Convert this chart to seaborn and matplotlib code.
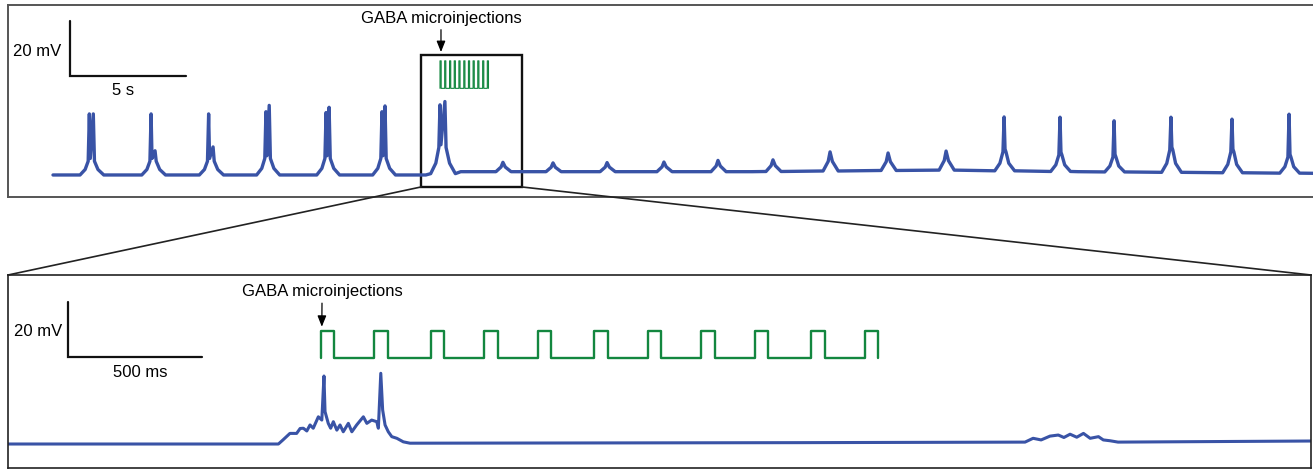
import numpy as np
import pandas as pd
import matplotlib
matplotlib.use("Agg")
import matplotlib.pyplot as plt
from matplotlib.patches import Rectangle, ConnectionPatch
import seaborn as sns

# ---- overview trace (time in s, potential in mV above rest) ----
# bursts with one or two spikes
spike_t = [1.56, 4.21, 6.68, 9.14, 11.72, 14.12, 16.61,
           40.82, 43.22, 45.54, 47.98, 50.60, 53.05]
spike_mV = [22.2, 22.2, 22.2, 23.0, 22.7, 23.0, 25.5,
            21.1, 21.0, 19.7, 21.0, 20.3, 22.1]
second_t = [1.73, 4.38, 6.87, 9.28, 11.85, 14.25, 16.82,
            None, None, None, None, None, None]
second_mV = [22.2, 8.8, 10.2, 25.3, 24.6, 25.1, 26.7,
             None, None, None, None, None, None]
shoulder_mV = [5, 5, 5, 6, 6, 6, 10, 8.4, 7.3, 6.5, 9.1, 8.4, 6.5]
# small depolarisations during/after GABA
bump_t = [19.31, 21.46, 23.78, 26.22, 28.54, 30.90, 33.35, 35.84, 38.33]
bump_mV = [4.6, 4.4, 4.5, 4.7, 5.3, 5.5, 8.4, 8.0, 8.7]
# slow baseline drift
drift_t = [0, 16.0, 17.5, 30.0, 38.0, 44.0, 54.2]
drift_mV = [0, 0, 1.2, 1.2, 1.8, 1.2, 0.6]

# ---- zoomed trace ----
zoom_t = [15.443, 16.452, 16.469, 16.495, 16.520, 16.533, 16.545, 16.558,
          16.570, 16.582, 16.601, 16.614, 16.622, 16.626, 16.638, 16.647,
          16.657, 16.670, 16.682, 16.694, 16.713, 16.726, 16.744, 16.769,
          16.782, 16.800, 16.819, 16.825, 16.834, 16.841, 16.850, 16.862,
          16.875, 16.894, 16.918, 16.943, 18.40, 19.238, 19.268, 19.298,
          19.331, 19.362, 19.383, 19.406, 19.431, 19.456, 19.481, 19.512,
          19.530, 19.555, 19.585, 20.305]
zoom_mV = [0, 0, 1.5, 3.9, 3.9, 5.7, 5.8, 4.8,
           7.0, 5.8, 10.0, 8.8, 25.0, 11.9, 7.6, 5.8,
           8.2, 5.1, 7.0, 4.5, 7.6, 4.5, 7.0, 10.0,
           7.6, 8.8, 8.2, 5.8, 26.0, 12.5, 7.0, 4.5,
           2.7, 2.1, 0.8, 0.3, 0.5, 0.7, 2.1, 1.5,
           2.9, 3.3, 2.4, 3.6, 2.5, 3.9, 2.1, 2.7,
           1.5, 1.2, 0.7, 1.1]

# ---- GABA pulses ----
pulse_on = [16.61, 16.81, 17.02, 17.22, 17.42, 17.63, 17.83, 18.03, 18.23, 18.44, 18.64]
pulse_width = 0.05
pulse_low, pulse_high = 31.5, 41.5

blue = '#3953a6'
green = '#13873f'


def base_at(t):
    return float(np.interp(t, drift_t, drift_mV))


def overview_df():
    pts = [(t, v) for t, v in zip(drift_t, drift_mV)]
    for t1, p1, t2, p2, sh in zip(spike_t, spike_mV, second_t, second_mV, shoulder_mV):
        b = base_at(t1)
        pts += [(t1 - 0.40, b), (t1 - 0.18, b + 0.4 * (sh - b)),
                (t1 - 0.05, sh), (t1, p1), (t1 + 0.04, sh + 1)]
        last = t1
        if t2 is not None:
            pts += [(t2, p2), (t2 + 0.05, sh)]
            last = t2
        else:
            pts += [(t1 + 0.08, sh)]
        pts += [(last + 0.2, b + 0.4 * (sh - b)), (last + 0.45, b)]
    for t, p in zip(bump_t, bump_mV):
        b = base_at(t)
        pts += [(t - 0.3, b), (t - 0.08, b + 0.5 * (p - b)), (t, p),
                (t + 0.1, b + 0.5 * (p - b)), (t + 0.35, b)]
    pts.sort()
    return pd.DataFrame(pts, columns=['t', 'mV'])


def pulse_df():
    pts = []
    for on in pulse_on:
        pts += [(on, pulse_low), (on, pulse_high),
                (on + pulse_width, pulse_high), (on + pulse_width, pulse_low)]
    return pd.DataFrame(pts, columns=['t', 'mV'])


sns.set_style('white')
plt.rcParams['font.family'] = ['Liberation Sans', 'DejaVu Sans']
plt.rcParams['text.color'] = 'black'

fig = plt.figure(figsize=(13.13, 4.69), dpi=100)
ax_top = fig.add_axes([0.00609, 0.5800, 0.9962, 0.4094])
ax_bot = fig.add_axes([0.00609, 0.00213, 0.99238, 0.4115])

trace = overview_df()
pulses = pulse_df()
zoom = pd.DataFrame({'t': zoom_t, 'mV': zoom_mV})

sns.lineplot(data=trace, x='t', y='mV', sort=False, estimator=None,
             color=blue, lw=2.4, ax=ax_top)
sns.lineplot(data=pulses, x='t', y='mV', sort=False, estimator=None,
             color=green, lw=0.8, ax=ax_top)
ax_top.lines[-1].set_snap(False)
sns.lineplot(data=zoom, x='t', y='mV', sort=False, estimator=None,
             color=blue, lw=2.2, ax=ax_bot)
sns.lineplot(data=pulses, x='t', y='mV', sort=False, estimator=None,
             color=green, lw=1.7, ax=ax_bot)

ax_top.set_xlim(-1.931, 54.206)
ax_top.set_ylim(-8.0, 61.82)
ax_bot.set_xlim(15.443, 20.305)
ax_bot.set_ylim(-8.82, 62.13)

for ax, col, w in [(ax_top, '#555555', 1.4), (ax_bot, '#222222', 1.2)]:
    ax.set_xticks([])
    ax.set_yticks([])
    ax.set_xlabel('')
    ax.set_ylabel('')
    for sp in ax.spines.values():
        sp.set_color(col)
        sp.set_linewidth(w)

# scale bars
ax_top.plot([0.73, 0.73, 5.73], [56.0, 36.0, 36.0], color='#111111', lw=1.6,
            solid_joinstyle='miter')
ax_top.text(0.373, 44.8, '20 mV', ha='right', va='center', fontsize=12)
ax_top.text(3.0, 30.9, '5 s', ha='center', va='center', fontsize=12)

ax_bot.plot([15.668, 15.668, 16.168], [52.1, 32.1, 32.1], color='#111111', lw=1.6,
            solid_joinstyle='miter')
ax_bot.text(15.645, 41.3, '20 mV', ha='right', va='center', fontsize=12)
ax_bot.text(15.937, 26.4, '500 ms', ha='center', va='center', fontsize=12)

# annotations
arrow = dict(arrowstyle='-|>,head_length=0.55,head_width=0.22', color='black',
             lw=0.9, shrinkA=0.5, shrinkB=0)
ax_top.annotate('GABA microinjections', xy=(16.652, 44.7), xytext=(16.652, 57.0),
                ha='center', va='center', fontsize=12, arrowprops=arrow)
ax_bot.annotate('GABA microinjections', xy=(16.614, 43.1), xytext=(16.615, 56.0),
                ha='center', va='center', fontsize=12, arrowprops=arrow)

# zoom box and connectors
ax_top.add_patch(Rectangle((15.794, -4.36), 20.129 - 15.794, 43.6 + 4.36,
                           fill=False, ec='#111111', lw=1.7))
for xa, xb in [(15.794, 0), (20.129, 1)]:
    con = ConnectionPatch(xyA=(xa, -4.36), coordsA=ax_top.transData,
                          xyB=(xb, 1), coordsB=ax_bot.transAxes,
                          color='#222222', lw=1.2)
    fig.add_artist(con)

fig.savefig('out.png', dpi=100)
